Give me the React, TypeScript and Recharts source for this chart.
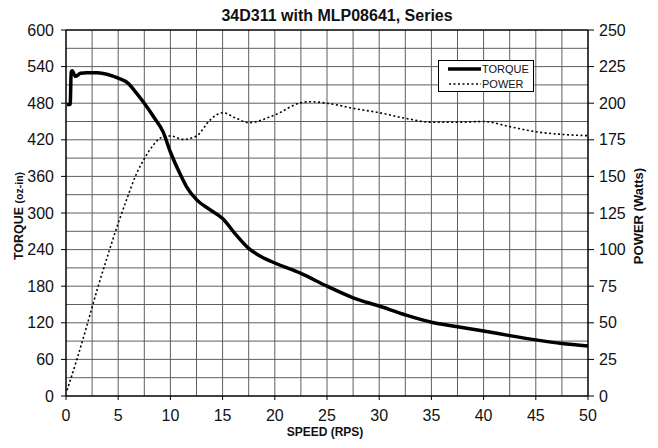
import React from 'react';
import { LineChart, Line, XAxis, YAxis, ReferenceLine, Legend } from 'recharts';

const FONT = '"Liberation Sans", Arial, Helvetica, sans-serif';

const torqueSpeed = [0.1, 0.4, 0.5, 0.6, 0.9, 1.4, 2, 3, 4, 5, 6, 6.5, 7.5, 8.5, 9.3, 10, 10.9, 11.55, 12.5, 13.75, 15, 16.25, 17.5, 18.75, 20, 22.5, 25, 27.5, 30, 32.5, 35, 37.5, 40, 42.5, 45, 47.5, 50];
const torqueValues = [478, 478, 531, 533, 524, 529, 530, 530, 527, 521, 512, 502, 480, 455, 433, 400, 365, 343, 322, 306, 291, 265, 242, 228, 218, 201, 180, 161, 147.5, 133, 121, 113.6, 106.6, 99, 92, 86, 82];

const powerSpeed = [0.1, 1, 2, 3, 4, 5, 5.8, 6.76, 7.5, 8.36, 9.17, 10, 11.24, 12.5, 13.8, 15, 16.3, 17.5, 20, 22.5, 23.4, 25, 27.5, 30, 32.5, 35, 37.5, 40, 42.5, 45, 47.5, 50];
const powerValues = [4, 24, 48, 73, 96, 118, 134, 152, 162, 171.4, 176.7, 177.6, 175.3, 177.6, 188.5, 193.5, 189.7, 186.7, 192, 200.3, 201, 200, 196.5, 193.5, 189.7, 187, 187, 187.5, 184, 180.5, 178.7, 177.8];

const speedTicks = [0, 5, 10, 15, 20, 25, 30, 35, 40, 45, 50];
const torqueTicks = [0, 60, 120, 180, 240, 300, 360, 420, 480, 540, 600];
const powerTicks = [0, 25, 50, 75, 100, 125, 150, 175, 200, 225, 250];
const gridSpeed = [2.5, 5, 7.5, 10, 12.5, 15, 17.5, 20, 22.5, 25, 27.5, 30, 32.5, 35, 37.5, 40, 42.5, 45, 47.5];
const gridTorque = [30, 60, 90, 120, 150, 180, 210, 240, 270, 300, 330, 360, 390, 420, 450, 480, 510, 540, 570];

const torqueData = torqueSpeed.map((x, i) => ({ x, torque: torqueValues[i] }));
const powerData = powerSpeed.map((x, i) => ({ x, power: powerValues[i] }));

const tickStyle = { fontFamily: FONT, fontSize: 16, fill: '#111' };
const GRID = '#5e5e5e';

const LegendBox = () => (
  <div style={{ width: 96, height: 32, border: '1px solid #000', background: '#fff', boxSizing: 'border-box', fontFamily: FONT, fontSize: 11, color: '#111' }}>
    <svg width={94} height={30} style={{ display: 'block' }}>
      <line x1={9} y1={8} x2={42} y2={8} stroke="#000" strokeWidth={3.5} />
      <text x={43} y={12} fontFamily={FONT} fontSize={11} fill="#111">TORQUE</text>
      <line x1={10} y1={23} x2={42} y2={23} stroke="#000" strokeWidth={1.5} strokeDasharray="2 2.5" />
      <text x={43} y={27} fontFamily={FONT} fontSize={11} fill="#111">POWER</text>
    </svg>
  </div>
);

export default function App() {
  return (
    <div style={{ width: 642, height: 432, position: 'relative', fontFamily: FONT }}>
      <LineChart width={642} height={432} margin={{ top: 22, right: 0, bottom: 0, left: 0 }}>
        <text x={329} y={13} textAnchor="middle" fontFamily={FONT} fontSize={16} fontWeight="bold" fill="#111">34D311 with MLP08641, Series</text>
        <text transform="translate(15,208) rotate(-90)" textAnchor="middle" fontFamily={FONT} fontWeight="bold" fill="#111">
          <tspan fontSize={12.5}>TORQUE </tspan><tspan fontSize={10.5}>(oz-in)</tspan>
        </text>
        <text transform="translate(635,208) rotate(-90)" textAnchor="middle" fontFamily={FONT} fontSize={13} fontWeight="bold" fill="#111">POWER (Watts)</text>
        <text x={317} y={428} textAnchor="middle" fontFamily={FONT} fontSize={12} fontWeight="bold" fill="#111">SPEED (RPS)</text>
        <XAxis
          dataKey="x"
          type="number"
          domain={[0, 50]}
          ticks={speedTicks}
          height={44}
          tickSize={4}
          tickMargin={10}
          tick={tickStyle}
          axisLine={{ stroke: '#000', strokeWidth: 1.5 }}
          tickLine={{ stroke: '#000' }}
          allowDataOverflow
        />
        <YAxis
          yAxisId="left"
          type="number"
          domain={[0, 600]}
          ticks={torqueTicks}
          width={58}
          tickSize={5}
          tickMargin={7}
          tick={tickStyle}
          axisLine={{ stroke: '#000', strokeWidth: 1.5 }}
          tickLine={{ stroke: '#000' }}
        />
        <YAxis
          yAxisId="right"
          orientation="right"
          type="number"
          domain={[0, 250]}
          ticks={powerTicks}
          width={62}
          tickSize={6}
          tickMargin={5}
          tick={tickStyle}
          axisLine={{ stroke: '#000', strokeWidth: 1.5 }}
          tickLine={{ stroke: '#000' }}
        />
        {gridSpeed.map((v) => (
          <ReferenceLine key={'gx' + v} yAxisId="left" x={v} stroke={GRID} strokeWidth={1} />
        ))}
        {gridTorque.map((v) => (
          <ReferenceLine key={'gy' + v} yAxisId="left" y={v} stroke={GRID} strokeWidth={1} />
        ))}
        <ReferenceLine yAxisId="left" y={600} stroke="#000" strokeWidth={1.5} />
        <Line
          data={powerData}
          yAxisId="right"
          dataKey="power"
          name="POWER"
          type="monotone"
          stroke="#000"
          strokeWidth={1.6}
          strokeDasharray="2 2.5"
          dot={false}
          isAnimationActive={false}
        />
        <Line
          data={torqueData}
          yAxisId="left"
          dataKey="torque"
          name="TORQUE"
          type="monotone"
          stroke="#000"
          strokeWidth={3.5}
          dot={false}
          isAnimationActive={false}
        />
        <Legend
          layout="vertical"
          align="center"
          verticalAlign="middle"
          content={() => <LegendBox />}
          wrapperStyle={{ position: 'absolute', left: 430, top: 52, width: 96, height: 32 }}
        />
      </LineChart>
    </div>
  );
}
